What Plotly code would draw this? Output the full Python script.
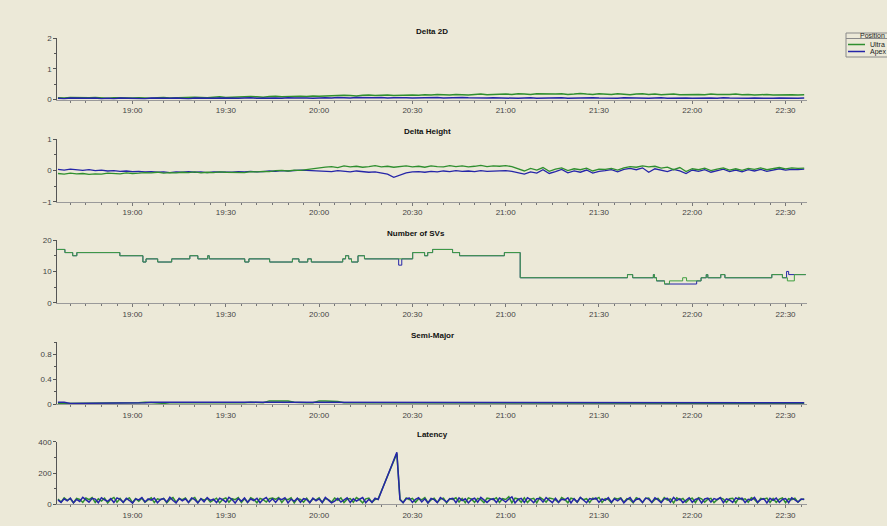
import pandas as pd
import plotly.graph_objects as go

W, H = 887, 526
DAY = "2009-06-15 "

# ---------------- data ----------------
d2d_ultra = [
    0.06, 0.05, 0.07, 0.06, 0.05, 0.06, 0.07, 0.05, 0.04, 0.06, 0.05, 0.06, 0.05,
    0.06, 0.05, 0.04, 0.06, 0.07, 0.05, 0.06, 0.07, 0.06, 0.08, 0.07, 0.06, 0.08, 0.09, 0.07,
    0.08, 0.09, 0.08, 0.10, 0.09, 0.08, 0.10, 0.11, 0.09, 0.10, 0.12, 0.11, 0.10, 0.12, 0.11,
    0.12, 0.13, 0.12, 0.14, 0.13, 0.12, 0.14, 0.15, 0.13, 0.14, 0.15, 0.13, 0.14, 0.16, 0.15,
    0.14, 0.16, 0.15, 0.17, 0.16, 0.15, 0.17, 0.16, 0.15, 0.17, 0.18, 0.16, 0.17, 0.16, 0.18,
    0.17, 0.19, 0.18, 0.17, 0.19, 0.18, 0.17, 0.18, 0.19, 0.17, 0.18, 0.20, 0.18, 0.17, 0.19,
    0.18, 0.17, 0.19, 0.18, 0.16, 0.18, 0.19, 0.17, 0.18, 0.16, 0.17, 0.18, 0.16, 0.17, 0.18,
    0.17, 0.16, 0.18, 0.17, 0.16, 0.17, 0.18, 0.16, 0.17, 0.15, 0.16, 0.17, 0.15, 0.16, 0.15,
    0.16, 0.15, 0.16,
]
d2d_apex = [
    0.04, 0.03, 0.05, 0.04, 0.03, 0.04, 0.05, 0.03, 0.04, 0.03, 0.05, 0.04, 0.03,
    0.04, 0.03, 0.05, 0.04, 0.03, 0.04, 0.05, 0.04, 0.03, 0.05, 0.04, 0.03, 0.04, 0.05, 0.04,
    0.05, 0.04, 0.05, 0.06, 0.04, 0.05, 0.06, 0.05, 0.04, 0.06, 0.05, 0.06, 0.05, 0.04, 0.06,
    0.06, 0.05, 0.07, 0.06, 0.05, 0.07, 0.06, 0.05, 0.06, 0.07, 0.05, 0.06, 0.07, 0.06, 0.05,
    0.06, 0.05, 0.06, 0.07, 0.05, 0.06, 0.05, 0.07, 0.06, 0.05, 0.06, 0.05, 0.06, 0.05, 0.04,
    0.05, 0.04, 0.05, 0.06, 0.04, 0.05, 0.04, 0.05, 0.06, 0.04, 0.05, 0.04, 0.05, 0.06, 0.05,
    0.04, 0.05, 0.04, 0.06, 0.05, 0.04, 0.05, 0.04, 0.05, 0.06, 0.04, 0.05, 0.04, 0.05, 0.04,
    0.05, 0.04, 0.05, 0.04, 0.06, 0.05, 0.04, 0.05, 0.04, 0.05, 0.04, 0.05, 0.04, 0.05, 0.04,
    0.05, 0.04, 0.05,
]

dh_ultra = [
    -0.10, -0.12, -0.09, -0.11, -0.10, -0.13, -0.11, -0.12, -0.09, -0.10, -0.11, -0.08, -0.10,
    -0.09, -0.07, -0.08, -0.06, -0.09, -0.07, -0.08, -0.06, -0.07, -0.05, -0.08, -0.06, -0.07, -0.05, -0.06,
    -0.06, -0.05, -0.07, -0.04, -0.05, -0.03, -0.04, -0.01, 0.00, -0.02, 0.01, 0.00, 0.03, 0.05, 0.08,
    0.10, 0.12, 0.09, 0.14, 0.11, 0.13, 0.10, 0.12, 0.15, 0.11, 0.13, 0.10, 0.12, 0.14, 0.11,
    0.13, 0.10, 0.14, 0.12, 0.11, 0.15, 0.12, 0.14, 0.11, 0.13, 0.16, 0.12, 0.14, 0.13, 0.15,
    0.12, 0.05, -0.02, 0.06, 0.01, 0.09, -0.03, 0.04, 0.08, -0.01, 0.05, 0.02, 0.07, -0.02, 0.04,
    0.03, 0.06, 0.01, 0.08, 0.12, 0.10, 0.14, 0.11, 0.13, 0.07, 0.10, 0.02, 0.09, -0.04, 0.05,
    0.02, 0.07, -0.01, 0.04, 0.08, 0.01, 0.05, 0.00, 0.06, 0.03, 0.08, 0.02, 0.06, 0.09, 0.05,
    0.08, 0.06, 0.07,
]
dh_apex = [
    0.03, 0.01, 0.04, 0.02, 0.00, 0.02, -0.01, 0.01, -0.02, -0.01, -0.03, -0.02, -0.04,
    -0.03, -0.05, -0.04, -0.06, -0.05, -0.07, -0.05, -0.06, -0.04, -0.06, -0.05, -0.07, -0.05, -0.06, -0.05,
    -0.06, -0.04, -0.05, -0.03, -0.05, -0.04, -0.02, -0.03, -0.01, -0.02, 0.00, 0.01, 0.00, -0.01, 0.00,
    -0.02, -0.04, -0.01, -0.03, -0.05, -0.02, -0.04, -0.06, -0.05, -0.08, -0.12, -0.22, -0.15, -0.08, -0.05,
    -0.04, -0.06, -0.03, -0.05, -0.02, -0.04, -0.01, -0.03, -0.02, -0.04, -0.01, -0.03, -0.02, 0.00, -0.01,
    -0.03, -0.08, -0.12, -0.05, -0.09, 0.02, -0.10, -0.04, 0.03, -0.08, -0.02, -0.06, 0.01, -0.09, -0.03,
    -0.01, 0.02, -0.05, 0.03, 0.06, 0.02, 0.08, -0.06, 0.05, 0.01, -0.04, 0.03, -0.02, -0.10, 0.01,
    -0.03, 0.02, -0.06, 0.00, 0.04, -0.04, 0.01, -0.05, 0.02, -0.02, 0.03, -0.03, 0.02, 0.05, 0.01,
    0.03, 0.02, 0.04,
]

sv_ultra_times = [
    "18:35:45", "18:38:15", "18:40:45", "18:42:05", "18:55:55", "19:03:20", "19:04:20",
    "19:08:05", "19:12:35", "19:18:25", "19:21:00", "19:24:10", "19:24:40", "19:36:05",
    "19:37:25", "19:44:05", "19:51:25", "19:53:30", "19:56:20", "19:57:30", "20:07:35",
    "20:08:30", "20:09:30", "20:10:25", "20:12:30", "20:14:35", "20:30:05", "20:33:55",
    "20:34:55", "20:36:30", "20:42:55", "20:45:10", "20:59:35", "21:04:40", "21:39:10",
    "21:40:50", "21:47:30", "21:47:50", "21:48:30", "21:51:05", "21:52:40", "21:56:55",
    "21:58:10", "22:02:50", "22:04:30", "22:05:00", "22:09:10", "22:10:30", "22:25:35",
    "22:29:00", "22:30:35", "22:32:50", "22:36:30",
]
sv_ultra_vals = [
    17, 16, 15, 16, 15, 13, 14,
    13, 14, 15, 14, 15, 14, 13,
    14, 13, 14, 13, 14, 13, 14,
    15, 14, 13, 15, 14, 16, 15,
    16, 17, 16, 15, 16, 8, 9,
    8, 9, 8, 7, 6, 7, 8,
    7, 8, 9, 8, 9, 8, 9,
    8, 7, 9, 9,
]
sv_apex_times = [
    "18:35:45", "18:38:15", "18:40:45", "18:42:05", "18:55:55", "19:03:20", "19:04:20",
    "19:08:05", "19:12:35", "19:18:25", "19:21:00", "19:24:10", "19:24:40", "19:36:05",
    "19:37:25", "19:44:05", "19:51:25", "19:53:30", "19:56:20", "19:57:30", "20:07:35",
    "20:08:30", "20:09:30", "20:10:25", "20:12:30", "20:14:35", "20:25:35", "20:26:35",
    "20:30:05", "20:33:55", "20:34:55", "20:36:30", "20:42:55", "20:45:10", "20:59:35",
    "21:04:40", "21:39:10", "21:40:50", "21:47:30", "21:47:50", "21:48:30", "21:51:05",
    "22:01:25", "22:02:50", "22:04:30", "22:05:00", "22:09:10", "22:10:30", "22:25:35",
    "22:29:00", "22:30:20", "22:31:00", "22:32:50", "22:36:30",
]
sv_apex_vals = [
    17, 16, 15, 16, 15, 13, 14,
    13, 14, 15, 14, 15, 14, 13,
    14, 13, 14, 13, 14, 13, 14,
    15, 14, 13, 15, 14, 12, 14,
    16, 15, 16, 17, 16, 15, 16,
    8, 9, 8, 9, 8, 7, 6,
    7, 8, 9, 8, 9, 8, 9,
    8, 10, 9, 9, 9,
]

sm_ultra = [
    0.01, 0.01, 0.02, 0.01, 0.01, 0.02, 0.01, 0.01, 0.02, 0.01, 0.02, 0.01, 0.02,
    0.02, 0.03, 0.02, 0.02, 0.01, 0.02, 0.02, 0.01, 0.02, 0.02, 0.01, 0.02, 0.02, 0.02, 0.02,
    0.02, 0.02, 0.02, 0.03, 0.02, 0.02, 0.05, 0.05, 0.05, 0.05, 0.03, 0.02, 0.02, 0.02, 0.05,
    0.05, 0.05, 0.04, 0.02, 0.02, 0.02, 0.02, 0.01, 0.02, 0.02, 0.01, 0.02, 0.02, 0.01, 0.02,
    0.02, 0.01, 0.02, 0.02, 0.02, 0.01, 0.02, 0.02, 0.01, 0.02, 0.02, 0.01, 0.02, 0.02, 0.01,
    0.02, 0.02, 0.01, 0.02, 0.02, 0.01, 0.02, 0.02, 0.02, 0.01, 0.02, 0.02, 0.01, 0.02, 0.02,
    0.01, 0.02, 0.02, 0.01, 0.02, 0.02, 0.02, 0.01, 0.02, 0.02, 0.01, 0.02, 0.02, 0.01, 0.02,
    0.02, 0.01, 0.02, 0.02, 0.01, 0.02, 0.02, 0.02, 0.01, 0.02, 0.02, 0.01, 0.02, 0.02, 0.01,
    0.02, 0.02, 0.01,
]
sm_apex = [
    0.03, 0.03, 0.01, 0.01, 0.01, 0.01, 0.01, 0.01, 0.01, 0.01, 0.01, 0.02, 0.02,
    0.02, 0.02, 0.03, 0.03, 0.03, 0.03, 0.03, 0.03, 0.03, 0.03, 0.03, 0.03, 0.02, 0.02, 0.03,
    0.03, 0.03, 0.03, 0.03, 0.03, 0.03, 0.03, 0.03, 0.03, 0.03, 0.03, 0.03, 0.03, 0.03, 0.03,
    0.03, 0.03, 0.03, 0.03, 0.02, 0.02, 0.02, 0.02, 0.02, 0.02, 0.02, 0.02, 0.02, 0.02, 0.02,
    0.02, 0.02, 0.02, 0.02, 0.02, 0.02, 0.02, 0.02, 0.02, 0.02, 0.02, 0.02, 0.02, 0.02, 0.02,
    0.02, 0.02, 0.02, 0.02, 0.02, 0.02, 0.02, 0.02, 0.02, 0.02, 0.02, 0.02, 0.02, 0.02, 0.02,
    0.02, 0.02, 0.02, 0.02, 0.02, 0.02, 0.02, 0.02, 0.02, 0.02, 0.02, 0.02, 0.02, 0.02, 0.02,
    0.02, 0.02, 0.02, 0.02, 0.02, 0.02, 0.02, 0.02, 0.02, 0.02, 0.02, 0.02, 0.02, 0.02, 0.02,
    0.02, 0.02, 0.02,
]

lat_apex = [
    28, 12, 35, 22, 40, 9, 31, 18, 44, 30,
    14, 38, 33, 10, 42, 29, 19, 36, 11, 41,
    32, 13, 39, 24, 8, 35, 28, 43, 15, 34,
    26, 40, 10, 31, 37, 14, 45, 24, 9, 38,
    22, 35, 12, 41, 30, 9, 36, 16, 43, 25,
    33, 11, 39, 30, 14, 44, 31, 8, 37, 20,
    41, 13, 34, 24, 38, 10, 32, 43, 15, 35,
    12, 37, 30, 42, 9, 33, 19, 39, 13, 36,
    31, 10, 40, 22, 35, 12, 44, 27, 9, 20,
    38, 14, 30, 41, 11, 36, 21, 34, 43, 10,
    32, 13, 39, 30, None, None, None, None, None, 332,
    29, 10, 36, 40, 12, 31, 42, 15, 35, 9,
    37, 30, 11, 43, 29, 14, 34, 38, 10, 41,
    24, 35, 9, 31, 39, 13, 44, 26, 12, 30,
    36, 11, 40, 29, 14, 34, 47, 9, 31, 38,
    12, 42, 30, 10, 35, 37, 14, 43, 25, 11,
    39, 13, 32, 28, 41, 9, 36, 15, 44, 26,
    10, 37, 31, 40, 12, 34, 25, 42, 13, 35,
    22, 38, 9, 30, 43, 14, 31, 36, 11, 40,
    33, 12, 41, 28, 10, 35, 39, 14, 44, 24,
    36, 11, 29, 42, 13, 31, 38, 9, 34, 40,
    14, 37, 30, 43, 10, 35, 28, 12, 41, 33,
    39, 11, 32, 27, 44, 13, 30, 36, 9, 38,
    25, 40, 12, 31, 37, 10, 42, 26, 14, 34,
    30,
]
lat_ultra = [
    34, 14, 41, 25, 36, 10, 38, 31, 12, 40,
    30, 43, 11, 35, 21, 39, 9, 32, 44, 13,
    37, 12, 33, 41, 10, 36, 20, 39, 14, 31,
    42, 11, 35, 29, 38, 9, 31, 43, 13, 36,
    30, 40, 12, 33, 44, 10, 35, 27, 38, 14,
    26, 39, 9, 31, 41, 13, 36, 30, 43, 11,
    35, 12, 42, 31, 10, 38, 29, 14, 36, 40,
    32, 44, 11, 35, 29, 41, 9, 37, 31, 13,
    39, 12, 34, 28, 42, 10, 37, 30, 14, 40,
    26, 41, 11, 32, 37, 13, 43, 30, 9, 35,
    40, 12, 31, 36, None, None, None, None, None, 325,
    33, 11, 41, 30, 38, 13, 35, 29, 43, 10,
    28, 39, 12, 33, 40, 9, 36, 31, 42, 14,
    37, 10, 41, 33, 13, 38, 30, 11, 39, 35,
    30, 42, 12, 36, 31, 48, 10, 39, 34, 13,
    41, 11, 33, 38, 9, 44, 32, 14, 40, 36,
    28, 12, 43, 31, 10, 39, 33, 13, 42, 30,
    36, 11, 40, 33, 44, 12, 37, 31, 9, 39,
    34, 41, 13, 36, 30, 10, 42, 33, 12, 38,
    40, 11, 31, 38, 13, 43, 27, 35, 9, 41,
    28, 37, 12, 33, 39, 10, 42, 35, 13, 32,
    38, 11, 30, 41, 33, 12, 36, 39, 10, 43,
    29, 35, 13, 42, 31, 9, 38, 33, 40, 12,
    37, 12, 33, 41, 10, 36, 30, 39, 13, 31,
    34,
]

panel_titles = ["Delta 2D", "Delta Height", "Number of SVs", "Semi-Major", "Latency"]
series_names = ["Ultra", "Apex"]
legend_title = "Position"
time_labels = ["19:00", "19:30", "20:00", "20:30", "21:00", "21:30", "22:00", "22:30"]

# ---------------- styles ----------------
BG = "#ECE9D8"
GREEN = "#2f8f2f"
BLUE = "#2525a8"
FONT = "Liberation Sans"

t2 = pd.date_range(DAY + "18:36", periods=len(d2d_ultra), freq="2min")
t1 = pd.date_range(DAY + "18:36", periods=len(lat_ultra), freq="1min")
sv_t_u = pd.to_datetime([DAY + s for s in sv_ultra_times])
sv_t_a = pd.to_datetime([DAY + s for s in sv_apex_times])

fig = go.Figure()

def add(i, x, y, color, name, shape="linear", gaps=False, width=1.2):
    ax = "" if i == 1 else str(i)
    fig.add_trace(go.Scatter(
        x=x, y=y, mode="lines", name=name, showlegend=False,
        line=dict(color=color, width=width, shape=shape), connectgaps=gaps,
        xaxis="x" + ax, yaxis="y" + ax, hoverinfo="skip"))

add(1, t2, d2d_ultra, GREEN, series_names[0], width=1.5)
add(1, t2, d2d_apex, BLUE, series_names[1], width=1.5)
add(2, t2, dh_apex, BLUE, series_names[1], width=1.3)
add(2, t2, dh_ultra, GREEN, series_names[0], width=1.3)
add(3, sv_t_a, sv_apex_vals, BLUE, series_names[1], shape="hv", width=1)
add(3, sv_t_u, sv_ultra_vals, "#3f9f3f", series_names[0], shape="hv", width=1)
add(4, t2, sm_ultra, GREEN, series_names[0], width=1.5)
add(4, t2, sm_apex, BLUE, series_names[1], width=1.5)
add(5, t1, lat_ultra, GREEN, series_names[0], gaps=True, width=1.5)
add(5, t1, lat_apex, BLUE, series_names[1], gaps=True, width=1.5)

def py(y):
    return 1 - y / H

xdom = [57.3 / W, 807 / W]
xrange_ = [DAY + "18:35:48", DAY + "22:36:54"]
# (top px, bottom px, range, dtick, minor dtick, tickvals)
panels = [
    (38.3, 99.6, [0, 2], 1, 0.5, None),
    (139.0, 201.7, [-1, 1], 1, 0.5, None),
    (240.0, 302.9, [0, 20], 10, 5, None),
    (342.0, 404.0, [0, 1], None, 0.2, [0, 0.4, 0.8]),
    (441.7, 504.3, [0, 400], 200, 100, None),
]
title_x = [432, 427, 416, 432, 432]

layout = dict(
    width=W, height=H, paper_bgcolor=BG, plot_bgcolor=BG,
    margin=dict(l=0, r=0, t=0, b=0, autoexpand=False),
    showlegend=False, font=dict(family=FONT, size=8, color="#333333"),
)
annotations = []
for i, (top, bot, rng, dt, mdt, tv) in enumerate(panels, start=1):
    ax = "" if i == 1 else str(i)
    layout["xaxis" + ax] = dict(
        domain=xdom, range=xrange_, type="date", anchor="y" + ax,
        tickvals=[DAY + s for s in time_labels], ticktext=time_labels,
        ticks="outside", ticklen=3, tickcolor="#777777", tickwidth=1,
        minor=dict(dtick=300000, tick0=DAY + "19:00", ticks="outside", ticklen=2, tickcolor="#777777"),
        showline=True, linecolor="#9a9a9a", linewidth=1, showgrid=False, zeroline=False,
        tickfont=dict(size=8, color="#444444", family=FONT),
    )
    yax = dict(
        domain=[py(bot), py(top)], range=rng, anchor="x" + ax,
        ticks="outside", ticklen=3, tickcolor="#555555",
        minor=dict(ticks="outside", ticklen=2, dtick=mdt, tickcolor="#555555"),
        showline=True, linecolor="#555555", linewidth=1, showgrid=False, zeroline=False,
        tickfont=dict(size=8, color="#444444", family=FONT),
    )
    if tv is not None:
        yax["tickvals"] = tv
        yax["ticktext"] = ["0", "0.4", "0.8"]
    else:
        yax["dtick"] = dt
        yax["tick0"] = 0
    layout["yaxis" + ax] = yax
    annotations.append(dict(
        text="<b>" + panel_titles[i - 1] + "</b>", x=title_x[i - 1] / W, y=py(top - 7),
        xref="paper", yref="paper", showarrow=False, xanchor="center", yanchor="middle",
        font=dict(size=8, color="#111111", family=FONT)))

# compact legend box (runs off the right edge like the reference)
lx0, ly0, ly1 = 846, 33, 57
shapes = [
    dict(type="rect", xref="paper", yref="paper", x0=lx0 / W, x1=(W + 20) / W,
         y0=py(ly1), y1=py(ly0), line=dict(color="#8a8a8a", width=1), fillcolor=BG),
    dict(type="line", xref="paper", yref="paper", x0=lx0 / W, x1=(W + 20) / W,
         y0=py(38.5), y1=py(38.5), line=dict(color="#8a8a8a", width=1)),
    dict(type="line", xref="paper", yref="paper", x0=848 / W, x1=865 / W,
         y0=py(44.5), y1=py(44.5), line=dict(color=GREEN, width=1.5)),
    dict(type="line", xref="paper", yref="paper", x0=848 / W, x1=865 / W,
         y0=py(51.5), y1=py(51.5), line=dict(color=BLUE, width=1.5)),
]
annotations += [
    dict(text=legend_title, x=858 / W, y=py(35.8), xref="paper", yref="paper",
         showarrow=False, xanchor="left", yanchor="middle", font=dict(size=7, color="#222222", family=FONT)),
    dict(text=series_names[0], x=868 / W, y=py(44.5), xref="paper", yref="paper",
         showarrow=False, xanchor="left", yanchor="middle", font=dict(size=7, color="#222222", family=FONT)),
    dict(text=series_names[1], x=868 / W, y=py(51.5), xref="paper", yref="paper",
         showarrow=False, xanchor="left", yanchor="middle", font=dict(size=7, color="#222222", family=FONT)),
]
layout["annotations"] = annotations
layout["shapes"] = shapes
fig.update_layout(**layout)
fig.write_html(
    "out.html",
    config={"displayModeBar": False},
    post_script="document.body.style.margin='0';document.body.style.background='#ECE9D8';document.body.style.overflow='hidden';",
)
